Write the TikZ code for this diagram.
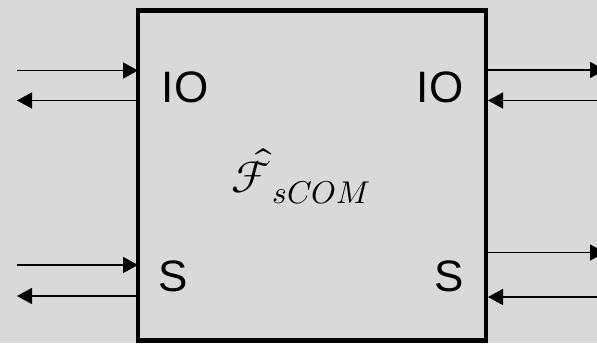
\documentclass[tikz,border=0pt]{standalone}
\usepackage{fontspec}
\usepackage{unicode-math}
\setmainfont{Liberation Sans}
\setmathfont{Latin Modern Math}
\usepackage{tikz}
\usetikzlibrary{arrows.meta}
\usetikzlibrary{calc}
\usetikzlibrary{positioning}

\definecolor{bgGray}{HTML}{D9D9D9}

\begin{document}
\begin{tikzpicture}[
  x=1pt, y=-1pt,
  funcBox/.style={draw=black, line width=4.5pt, inner sep=0pt, outer sep=0pt,
    minimum width=348pt, minimum height=330pt},
  portLabel/.style={font=\fontsize{44}{50}\selectfont, inner sep=0pt},
  wire/.style={line width=1.5pt, -{Triangle[length=15pt,width=16pt]}},
]

\fill[bgGray] (0,0) rectangle (597,343);
\useasboundingbox (0,0) rectangle (597,343);
\clip (0,0) rectangle (597,343);

% the functionality box
\node[funcBox] (sbox) at (312,175.5) {};

\node[font=\fontsize{45}{54}\selectfont, inner sep=0pt] (fname) at (301,176)
  {$\hat{\mathcal{F}}_{sCOM}$};

\node[portLabel] (ioL) at (185,87) {IO};
\node[portLabel] (ioR) at (440,87) {IO};
\node[portLabel] (sL) at (173,276) {S};
\node[portLabel] (sR) at (449.5,276) {S};

% free ends of the wires
\coordinate (ioLin)  at (17,70.5);
\coordinate (ioLout) at (17,100.5);
\coordinate (sLin)   at (17,265);
\coordinate (sLout)  at (17,296);
\coordinate (ioRout) at (605,70);
\coordinate (ioRin)  at (597,100.5);
\coordinate (sRout)  at (605,252.5);
\coordinate (sRin)   at (597,297);

% left side
\draw[wire] (ioLin) -- (ioLin -| sbox.west);
\draw[wire] (ioLout -| sbox.west) -- (ioLout);
\draw[wire] (sLin) -- (sLin -| sbox.west);
\draw[wire] (sLout -| sbox.west) -- (sLout);

% right side
\draw[wire] (ioRout -| sbox.east) -- (ioRout);
\draw[wire] (ioRin) -- ($(ioRin -| sbox.east)+(2,0)$);
\draw[wire] (sRout -| sbox.east) -- (sRout);
\draw[wire] (sRin) -- ($(sRin -| sbox.east)+(2,0)$);

\end{tikzpicture}
\end{document}
